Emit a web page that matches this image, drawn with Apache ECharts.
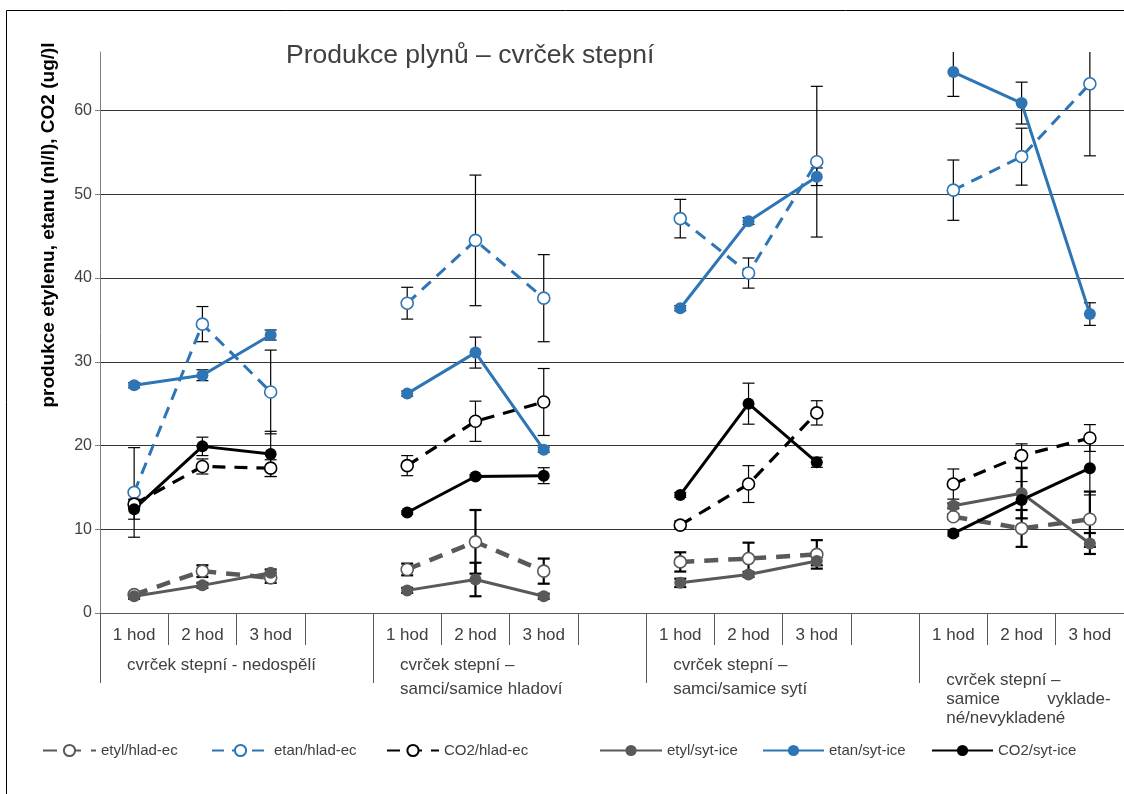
<!DOCTYPE html>
<html><head><meta charset="utf-8">
<script src="https://cdn.jsdelivr.net/npm/echarts@6/dist/echarts.min.js"></script>
<style>html,body{margin:0;padding:0;background:#fff}#c{width:1124px;height:794px}</style>
</head><body><div id="c"></div>
<script>
// ---------- DATA ----------
const tickLabels = ['1 hod','2 hod','3 hod','', '1 hod','2 hod','3 hod','', '1 hod','2 hod','3 hod','', '1 hod','2 hod','3 hod'];
const groupLabels = [
  ['cvrček stepní - nedospělí'],
  ['cvrček stepní –', 'samci/samice hladoví'],
  ['cvrček stepní –', 'samci/samice sytí'],
  ['cvrček stepní –', 'samice          vyklade-', 'né/nevykladené']
];
const hoursPerGroup = 3;
const yMax = 67;
const yStep = 10;
const titleText = 'Produkce plynů – cvrček stepní';
const yName = 'produkce etylenu, etanu (nl/l), CO2 (ug/)l';
const seriesNames = ['etyl/hlad-ec','etan/hlad-ec','CO2/hlad-ec','etyl/syt-ice','etan/syt-ice','CO2/syt-ice'];
// values: group1 (1,2,3 hod), group2, group3, group4
const etylHlad    = [2.2, 5.0, 4.2,   5.2, 8.5, 5.0,   6.1, 6.5, 7.0,   11.5, 10.1, 11.2];
const etylHladErr = [0.2, 0.7, 0.6,   0.7, 3.8, 1.5,   1.15,1.9, 1.7,   0.3, 2.2, 3.3];
const etanHlad    = [14.4,34.5,26.4,  37.0,44.5,37.6,  47.1,40.6,53.9,  50.5,54.5,63.2];
const etanHladErr = [5.35,2.1, 5.0,   1.9, 7.8, 5.2,   2.3, 1.8, 9.0,   3.6, 3.4, 8.6];
const co2Hlad     = [13.0,17.5,17.3,  17.6,22.9,25.2,  10.5,15.4,23.9,  15.4,18.8,20.9];
const co2HladErr  = [0.5, 0.9, 1.0,   1.2, 2.4, 4.0,   0.5, 2.2, 1.45,  1.8, 1.4, 1.6];
const etylSyt     = [2.0, 3.3, 4.8,   2.7, 4.0, 2.0,   3.6, 4.6, 6.2,   12.8,14.3, 8.3];
const etylSytErr  = [0.3, 0.3, 0.4,   0.3, 2.0, 0.3,   0.5, 0.3, 0.5,   0.3, 3.0, 1.25];
const etanSyt     = [27.2,28.4,33.2,  26.2,31.1,19.5,  36.4,46.8,52.1,  64.6,60.9,35.7];
const etanSytErr  = [0.3, 0.65,0.6,   0.3, 1.85,0.3,   0.3, 0.4, 1.05,  2.9, 2.5, 1.35];
const co2Syt      = [12.4,19.9,19.0,  12.0,16.3,16.4,  14.1,25.0,18.0,  9.5, 13.5,17.3];
const co2SytErr   = [1.2, 1.1, 2.7,   0.2, 0.2, 0.95,  0.3, 2.45,0.6,   0.3, 2.2, 3.2];

// ---------- BUILD ----------
const FONT = "'Liberation Sans', Arial, sans-serif";
const TXT = '#404040';
const BLUE = '#2E75B6', GRAY = '#595959', BLACK = '#000000';

function slotOf(i){ const g = Math.floor(i / hoursPerGroup), h = i % hoursPerGroup; return g * (hoursPerGroup + 1) + h; }
function toSlots(vals){ const arr = tickLabels.map(() => null); vals.forEach((v,i)=>{ arr[slotOf(i)] = v; }); return arr; }
function toErr(vals, errs){ return vals.map((v,i)=>[slotOf(i), v - errs[i], v + errs[i]]); }

const groupAxisData = [];
for (let i = 0; i <= tickLabels.length; i++) groupAxisData.push('');
groupLabels.forEach((lines, k) => {
  let s = lines.map(l => (lines.length > 2 ? '{c|' : '{b|') + l + '}').join('\n');
  if (lines.length > 2) s = '{sp| }\n' + s;
  groupAxisData[k * (hoursPerGroup + 1)] = s;
});

function errRender(width){
  return function(params, api){
    const x = api.value(0), lo = api.value(1), hi = api.value(2);
    const p1 = api.coord([x, hi]), p2 = api.coord([x, lo]);
    const cap = 6;
    const style = {stroke: BLACK, lineWidth: width};
    return {type:'group', children:[
      {type:'line', shape:{x1:p1[0], y1:p1[1], x2:p2[0], y2:p2[1]}, style},
      {type:'line', shape:{x1:p1[0]-cap, y1:p1[1], x2:p1[0]+cap, y2:p1[1]}, style},
      {type:'line', shape:{x1:p2[0]-cap, y1:p2[1], x2:p2[0]+cap, y2:p2[1]}, style}
    ]};
  };
}
function errSeries(vals, errs, width){
  return {type:'custom', renderItem: errRender(width), data: toErr(vals, errs), encode:{x:0, y:[1,2]}, clip:true, z:1, silent:true};
}
function lineSeries(name, vals, color, dashed, width, dash){
  return {
    name, type:'line', data: toSlots(vals), connectNulls:false, z:3,
    symbol:'circle', symbolSize: dashed ? 12 : 12,
    itemStyle: dashed ? {color:'#ffffff', borderColor: color, borderWidth: 1.6} : {color: color},
    lineStyle: {color: color, width: width, type: dashed ? dash : 'solid'},
    emphasis: {disabled:true}, animation:false
  };
}

const legendPos = [[37,53],[206,57],[381,52],[594,62],[757,61],[926,61]];

const option = {
  animation:false,
  textStyle:{fontFamily: FONT},
  title:{text: titleText, left: 281, top: 37, textStyle:{fontFamily: FONT, fontSize: 26.5, fontWeight:'normal', color: TXT}},
  grid:{left:100, top:52, width:1027, height:561, containLabel:false},
  legend: seriesNames.map((n,k)=>({
    data:[n], left: legendPos[k][0], top: 738, itemWidth: legendPos[k][1], itemHeight: 14,
    textStyle:{fontFamily: FONT, fontSize: 15, color: TXT}, selectedMode:false
  })),
  xAxis:[
    {type:'category', data: tickLabels, boundaryGap:true, position:'bottom',
     axisLine:{show:true, lineStyle:{color:'#595959', width:1}},
     axisTick:{show:true, interval:0, length:32, lineStyle:{color:'#595959'}},
     axisLabel:{interval:0, margin:14, fontSize:17, color: TXT, fontFamily: FONT},
     splitLine:{show:false}},
    {type:'category', data: groupAxisData, boundaryGap:false, position:'bottom', offset:0,
     axisLine:{show:false},
     axisTick:{show:true, length:70, interval:(i)=> i % (hoursPerGroup+1) === 0, lineStyle:{color:'#595959'}},
     axisLabel:{interval:(i)=> i % (hoursPerGroup+1) === 0, margin:40, fontSize:17, color: TXT, fontFamily: FONT,
       align:'left', verticalAlign:'top', padding:[0,0,0,27],
       rich:{
         b:{fontSize:17, color:TXT, fontFamily:FONT, lineHeight:24},
         c:{fontSize:17, color:TXT, fontFamily:FONT, lineHeight:19},
         sp:{fontSize:2, lineHeight:18}
       }},
     splitLine:{show:false}}
  ],
  yAxis:{type:'value', min:0, max:yMax, interval:yStep,
    axisLine:{show:true, lineStyle:{color:'#808080'}},
    axisTick:{show:true, length:5, lineStyle:{color:'#808080'}},
    axisLabel:{fontSize:16, color: TXT, margin:8, showMaxLabel:false, fontFamily: FONT,
      formatter:(v)=> (v % yStep === 0 ? String(v) : '')},
    splitLine:{show:true, showMaxLine:false, lineStyle:{color:'#333333', width:1}}
  },
  graphic:[
    {type:'rect', shape:{x:6.5, y:10.5, width:1140, height:800}, style:{fill:'none', stroke:'#000', lineWidth:1}, silent:true, z:-10},
    {type:'text', x:49, y:225, rotation:Math.PI/2, style:{text: yName, fontFamily: FONT, fontSize:19, fontWeight:'bold', fill:'#000', align:'center', verticalAlign:'middle'}, silent:true}
  ],
  series:[
    errSeries(etylHlad, etylHladErr, 2.2),
    errSeries(etanHlad, etanHladErr, 1.2),
    errSeries(co2Hlad, co2HladErr, 1.2),
    errSeries(etylSyt, etylSytErr, 2.2),
    errSeries(etanSyt, etanSytErr, 1.2),
    errSeries(co2Syt, co2SytErr, 1.2),
    lineSeries(seriesNames[0], etylHlad, GRAY, true, 4.5, [14,10]),
    lineSeries(seriesNames[1], etanHlad, BLUE, true, 3, [12,8]),
    lineSeries(seriesNames[2], co2Hlad, BLACK, true, 3.2, [13,9]),
    lineSeries(seriesNames[3], etylSyt, GRAY, false, 3),
    lineSeries(seriesNames[4], etanSyt, BLUE, false, 3),
    lineSeries(seriesNames[5], co2Syt, BLACK, false, 3)
  ]
};
const chart = echarts.init(document.getElementById('c'), null, {renderer:'canvas'});
chart.setOption(option);
</script></body></html>
